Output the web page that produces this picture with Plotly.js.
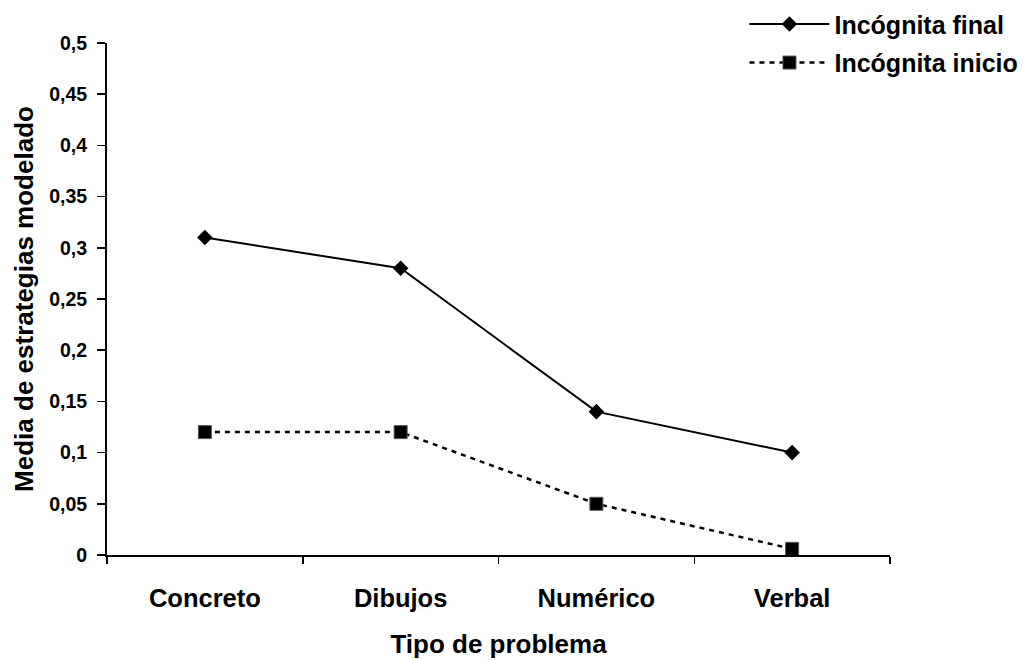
<!DOCTYPE html>
<html>
<head>
<meta charset="utf-8">
<script src="https://cdn.plot.ly/plotly-3.0.1.min.js"></script>
<style>
  html, body { margin: 0; padding: 0; background: #fff; }
  #chart { width: 1034px; height: 660px; }
</style>
</head>
<body>
<div id="chart"></div>
<script>
// Tipos de problema (eje X)
const categorias = ['Concreto', 'Dibujos', 'Numérico', 'Verbal'];

// Media de estrategias de modelado por tipo de problema
const incognitaFinal = [0.31, 0.28, 0.14, 0.10];
const incognitaInicio = [0.12, 0.12, 0.05, 0.006];

// Marcas del eje Y con coma decimal
const yTickVals = [0, 0.05, 0.1, 0.15, 0.2, 0.25, 0.3, 0.35, 0.4, 0.45, 0.5];
const yTickText = ['0', '0,05', '0,1', '0,15', '0,2', '0,25', '0,3', '0,35', '0,4', '0,45', '0,5'];

const FONT = 'Liberation Sans, Arial, Helvetica, sans-serif';

const traces = [
  {
    type: 'scatter',
    mode: 'lines+markers',
    name: 'Incógnita final',
    legendgroup: 'final',
    x: categorias,
    y: incognitaFinal,
    line: { color: '#000', width: 2 },
    marker: { symbol: 'diamond', size: 12, color: '#000' }
  },
  {
    type: 'scatter',
    mode: 'lines+markers',
    name: 'Incógnita inicio',
    legendgroup: 'inicio',
    x: categorias,
    y: incognitaInicio,
    line: { color: '#000', width: 2.5, dash: '5px,5px' },
    marker: { symbol: 'square', size: 13, color: '#000', line: { color: '#555', width: 1 } }
  }
];

const layout = {
  width: 1034,
  height: 660,
  paper_bgcolor: '#fff',
  plot_bgcolor: '#fff',
  margin: { l: 107, r: 144, t: 43, b: 105, autoexpand: false },
  font: { family: FONT, color: '#000', weight: 'bold' },
  showlegend: true,
  legend: {
    xref: 'container', yref: 'container',
    x: 0.72, y: 0.998, xanchor: 'left', yanchor: 'top',
    font: { family: FONT, size: 25, color: '#000', weight: 'bold' },
    bgcolor: 'rgba(0,0,0,0)',
    tracegroupgap: 3,
    itemwidth: 80
  },
  xaxis: {
    type: 'category',
    range: [-0.5, categorias.length - 0.5],
    tickson: 'boundaries',
    ticks: 'outside',
    ticklen: 7,
    tickwidth: 1.5,
    tickcolor: '#000',
    showline: true,
    linecolor: '#000',
    linewidth: 2,
    showgrid: false,
    zeroline: false,
    ticklabelstandoff: 19,
    tickfont: { family: FONT, size: 25.5, color: '#000', weight: 'bold' },
    title: {
      text: 'Tipo de problema',
      font: { family: FONT, size: 26, color: '#000', weight: 'bold' },
      standoff: 24
    }
  },
  yaxis: {
    range: [0, 0.5],
    tickvals: yTickVals,
    ticktext: yTickText,
    ticks: 'outside',
    ticklen: 8,
    tickwidth: 1.5,
    tickcolor: '#000',
    showline: true,
    linecolor: '#000',
    linewidth: 2,
    showgrid: false,
    zeroline: false,
    ticklabelstandoff: 6,
    tickfont: { family: FONT, size: 19.5, color: '#000', weight: 'bold' },
    title: {
      text: 'Media de estrategias modelado',
      font: { family: FONT, size: 26, color: '#000', weight: 'bold' },
      standoff: 8
    }
  }
};

Plotly.newPlot('chart', traces, layout, { displayModeBar: false, staticPlot: true });
</script>
</body>
</html>
